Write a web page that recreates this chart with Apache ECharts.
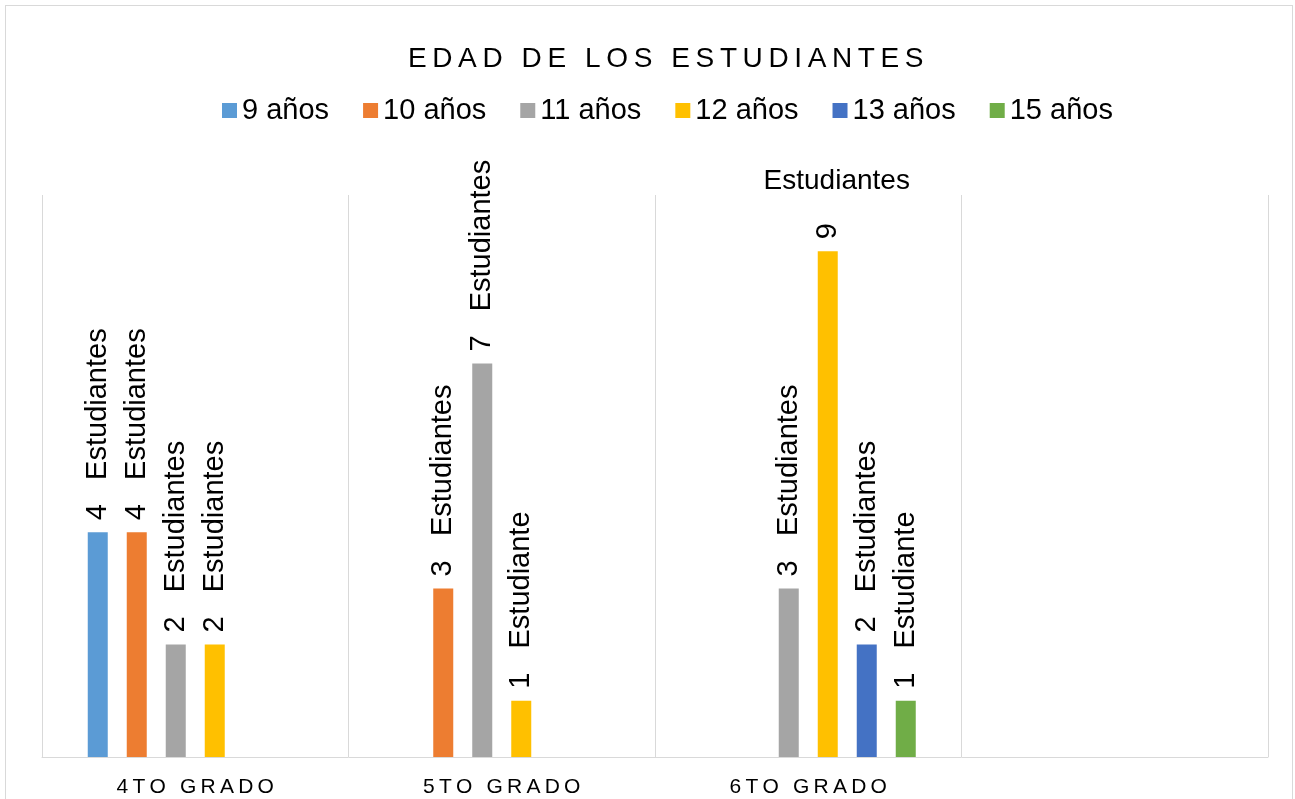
<!DOCTYPE html>
<html>
<head>
<meta charset="utf-8">
<script src="https://cdn.jsdelivr.net/npm/echarts@6/dist/echarts.min.js"></script>
<style>
  html, body { margin: 0; padding: 0; background: #fff; overflow: hidden; }
  #chart { width: 1295px; height: 799px; }
  #frame {
    position: absolute; left: 5px; top: 5px; width: 1286px; height: 830px;
    border: 1px solid #d9d9d9; pointer-events: none;
  }
</style>
</head>
<body>
<div id="chart"></div>
<div id="frame"></div>
<script>
// data
var grados = ['4TO GRADO', '5TO GRADO', '6TO GRADO', ''];
var edades = ['9 años', '10 años', '11 años', '12 años', '13 años', '15 años'];
var nueve = [4, null, null, null];
var diez = [4, 3, null, null];
var once = [2, 7, 3, null];
var doce = [2, 1, 9, null];
var trece = [null, null, 2, null];
var quince = [null, null, 1, null];
var colores = ['#5B9BD5', '#ED7D31', '#A5A5A5', '#FFC000', '#4472C4', '#70AD47'];

var FONT = '"Liberation Sans", Arial, sans-serif';

// spread letters a little, like the original's character spacing
function spaced(s) {
  return s.split('').join('\u2009');
}

function etiqueta(v) {
  return v + '   ' + (v === 1 ? 'Estudiante' : 'Estudiantes');
}

var chart = echarts.init(document.getElementById('chart'));

var valores = [nueve, diez, once, doce, trece, quince];
var series = valores.map(function (vals, i) {
  return {
    name: edades[i],
    type: 'bar',
    barWidth: 20,
    barGap: '95%',
    itemStyle: { color: colores[i] },
    label: {
      show: true,
      position: 'top',
      rotate: 90,
      align: 'left',
      verticalAlign: 'middle',
      distance: 12,
      color: '#000',
      fontFamily: FONT,
      fontSize: 29,
      formatter: function (p) { return etiqueta(p.value); }
    },
    data: vals.slice()
  };
});

// 9 estudiantes: the number sits on the bar, the word goes above
series[3].data[2] = {
  value: doce[2],
  label: { formatter: function (p) { return String(p.value); } }
};
series[3].markPoint = {
  symbol: 'circle',
  symbolSize: 1,
  itemStyle: { color: 'rgba(0,0,0,0)' },
  label: {
    show: true,
    formatter: 'Estudiantes',
    color: '#000',
    fontFamily: FONT,
    fontSize: 28,
    offset: [9, -70]
  },
  data: [{ coord: [grados[2], doce[2]] }]
};

chart.setOption({
  animation: false,
  title: {
    text: spaced('EDAD DE LOS ESTUDIANTES'),
    left: 403,
    top: 40,
    textStyle: { fontFamily: FONT, fontSize: 28, fontWeight: 'normal', color: '#000' }
  },
  legend: {
    top: 91,
    left: 217,
    itemWidth: 15,
    itemHeight: 15,
    itemGap: 34,
    icon: 'rect',
    textStyle: { fontFamily: FONT, fontSize: 29, color: '#000' },
    data: edades
  },
  grid: { left: 42, right: 27, top: 195, bottom: 42 },
  xAxis: {
    type: 'category',
    data: grados,
    axisLine: { lineStyle: { color: '#d9d9d9', width: 1 } },
    axisTick: { show: false },
    splitLine: { show: true, lineStyle: { color: '#d9d9d9', width: 1 } },
    axisLabel: {
      color: '#000',
      fontFamily: FONT,
      fontSize: 21,
      margin: 20,
      formatter: function (v) { return spaced(v); }
    }
  },
  yAxis: {
    type: 'value',
    min: 0,
    max: 10,
    show: false,
    splitLine: { show: false }
  },
  series: series
});
</script>
</body>
</html>
